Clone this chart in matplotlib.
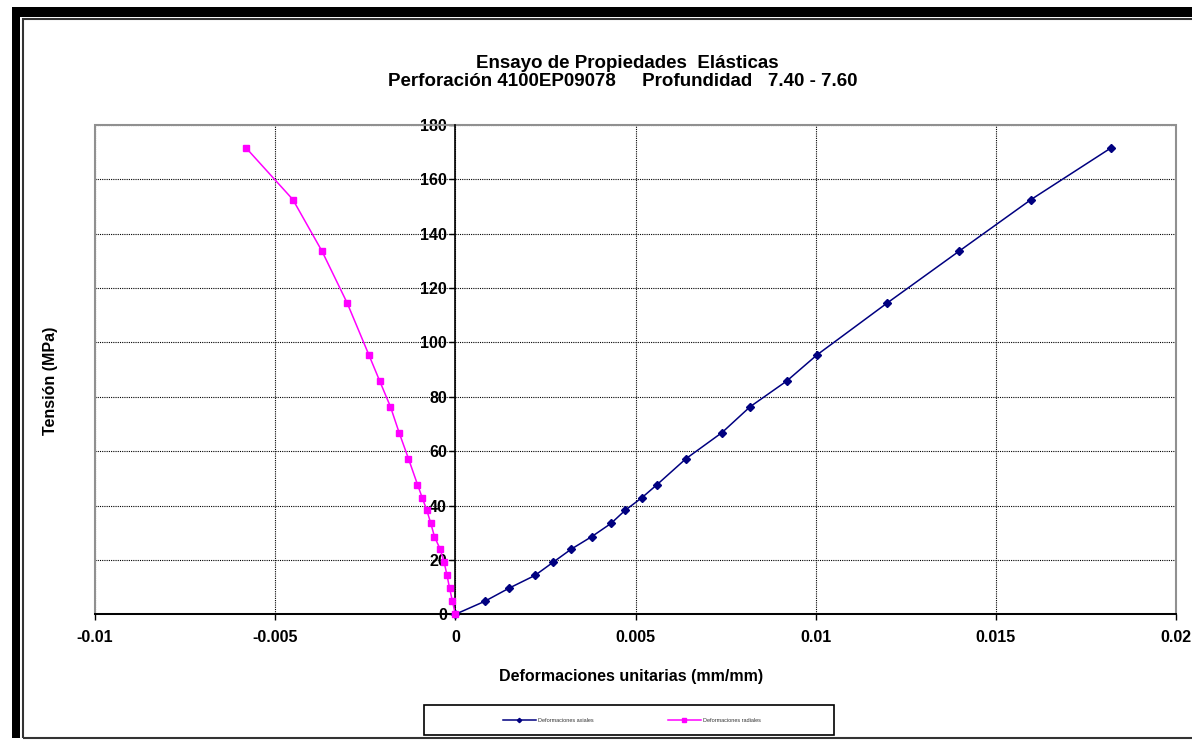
import matplotlib
matplotlib.use("Agg")
import matplotlib.pyplot as plt
from matplotlib.patches import Rectangle
from matplotlib.lines import Line2D

plt.rcParams['font.family'] = ['Liberation Sans', 'DejaVu Sans']

# ---- data ----
tension = [0, 4.8, 9.6, 14.3, 19.1, 23.9, 28.6, 33.4, 38.2, 42.9, 47.7,
           57.2, 66.8, 76.3, 85.8, 95.4, 114.4, 133.5, 152.5, 171.5]
def_axiales = [0.0, 0.00082, 0.00149, 0.00221, 0.00271, 0.00321, 0.00379,
               0.00432, 0.00471, 0.00518, 0.00560, 0.00640, 0.00740,
               0.00818, 0.00920, 0.01004, 0.01198, 0.01398, 0.01598, 0.01820]
def_radiales = [0.0, -0.00008, -0.00016, -0.00023, -0.00031, -0.00042,
                -0.00058, -0.00068, -0.00079, -0.00092, -0.00105, -0.00130,
                -0.00156, -0.00180, -0.00210, -0.00240, -0.00300, -0.00370,
                -0.00451, -0.00581]
x_ticks = [-0.01, -0.005, 0, 0.005, 0.01, 0.015, 0.02]
x_tick_labels = ["-0.01", "-0.005", "0", "0.005", "0.01", "0.015", "0.02"]
y_ticks = [0, 20, 40, 60, 80, 100, 120, 140, 160, 180]
series_names = ["Deformaciones axiales", "Deformaciones radiales"]
title_lines = ["Ensayo de Propiedades  Elásticas",
               "Perforación 4100EP09078     Profundidad   7.40 - 7.60"]

W, H = 1192, 741
fig = plt.figure(figsize=(W / 100, H / 100), dpi=100)
fig.patch.set_facecolor("white")

def fx(px):
    return px / W

def fy(py):
    return (H - py) / H

# outer frame decorations
fig.patches.append(Rectangle((fx(12), fy(17)), fx(1192) - fx(12), 10 / H,
                             transform=fig.transFigure, facecolor="black",
                             edgecolor="none", zorder=0))
fig.patches.append(Rectangle((fx(12), fy(738)), 8 / W, 731 / H,
                             transform=fig.transFigure, facecolor="black",
                             edgecolor="none", zorder=0))
fig.patches.append(Rectangle((fx(22.5), fy(737.5)), fx(1210) - fx(22.5),
                             (737.5 - 19) / H, transform=fig.transFigure,
                             facecolor="none", edgecolor="#333333", lw=1.5,
                             zorder=0))

# axes
left, right, top, bottom = 95, 1176, 124.7, 614.3
ax = fig.add_axes([fx(left), fy(bottom), fx(right) - fx(left),
                   fy(top) - fy(bottom)])
ax.set_xlim(-0.01, 0.02)
ax.set_ylim(0, 180)

navy = "#000080"
magenta = "#FF00FF"
ax.plot(def_axiales, tension, color=navy, lw=1.1, marker="D", ms=3.6,
        mec=navy, mfc=navy, zorder=4, clip_on=False)
ax.plot(def_radiales, tension, color=magenta, lw=1.1, marker="s", ms=5,
        mec=magenta, mfc=magenta, zorder=4, clip_on=False)

ax.set_xticks(x_ticks)
ax.set_xticklabels(x_tick_labels)
ax.set_yticks(y_ticks)
ax.grid(True, color="black", linestyle=(0, (1, 1)), lw=0.8, zorder=1)

for s in ["top", "right"]:
    ax.spines[s].set_visible(False)
ax.spines["left"].set_position(("data", 0))
ax.spines["left"].set_color("black")
ax.spines["left"].set_linewidth(1.2)
ax.spines["left"].set_zorder(3)
ax.spines["bottom"].set_color("black")
ax.spines["bottom"].set_linewidth(1.4)
ax.spines["bottom"].set_zorder(3)
ax.add_patch(Rectangle((0, 0), 1, 1, transform=ax.transAxes, fill=False,
                       edgecolor="#909090", lw=1.5, zorder=2, clip_on=False))

ax.tick_params(axis="both", direction="out", length=4, width=1,
               labelsize=11.5, color="black")
ax.tick_params(axis="x", pad=7)
ax.tick_params(axis="y", pad=2)
for lab in ax.get_xticklabels() + ax.get_yticklabels():
    lab.set_fontweight("bold")

# titles and labels
fig.text(fx(627), fy(68), title_lines[0], ha="center", va="baseline",
         fontsize=13.5, fontweight="bold")
fig.text(fx(623), fy(86.5), title_lines[1], ha="center", va="baseline",
         fontsize=13.5, fontweight="bold")
fig.text(fx(631), fy(676), "Deformaciones unitarias (mm/mm)", ha="center",
         va="center", fontsize=11.5, fontweight="bold")
fig.text(fx(50), fy(381), "Tensión (MPa)", ha="center", va="center",
         rotation=90, fontsize=11.5, fontweight="bold")

# legend
fig.patches.append(Rectangle((fx(423.5), fy(735)), fx(834) - fx(423.5),
                             (735 - 704.5) / H, transform=fig.transFigure,
                             facecolor="white", edgecolor="black", lw=1.2,
                             zorder=5))
handles = [Line2D([], [], color=navy, lw=1.1, marker="D", ms=2.2),
           Line2D([], [], color=magenta, lw=1.1, marker="s", ms=3)]
leg = fig.legend(handles, series_names, loc="center",
                 bbox_to_anchor=(fx(632), fy(720.5)), ncol=2, fontsize=4,
                 frameon=False, handlelength=5.8, handletextpad=0.4,
                 columnspacing=13.5)
leg.set_zorder(6)
for t in leg.get_texts():
    t.set_color("#333333")

fig.savefig("out.png", dpi=100)
